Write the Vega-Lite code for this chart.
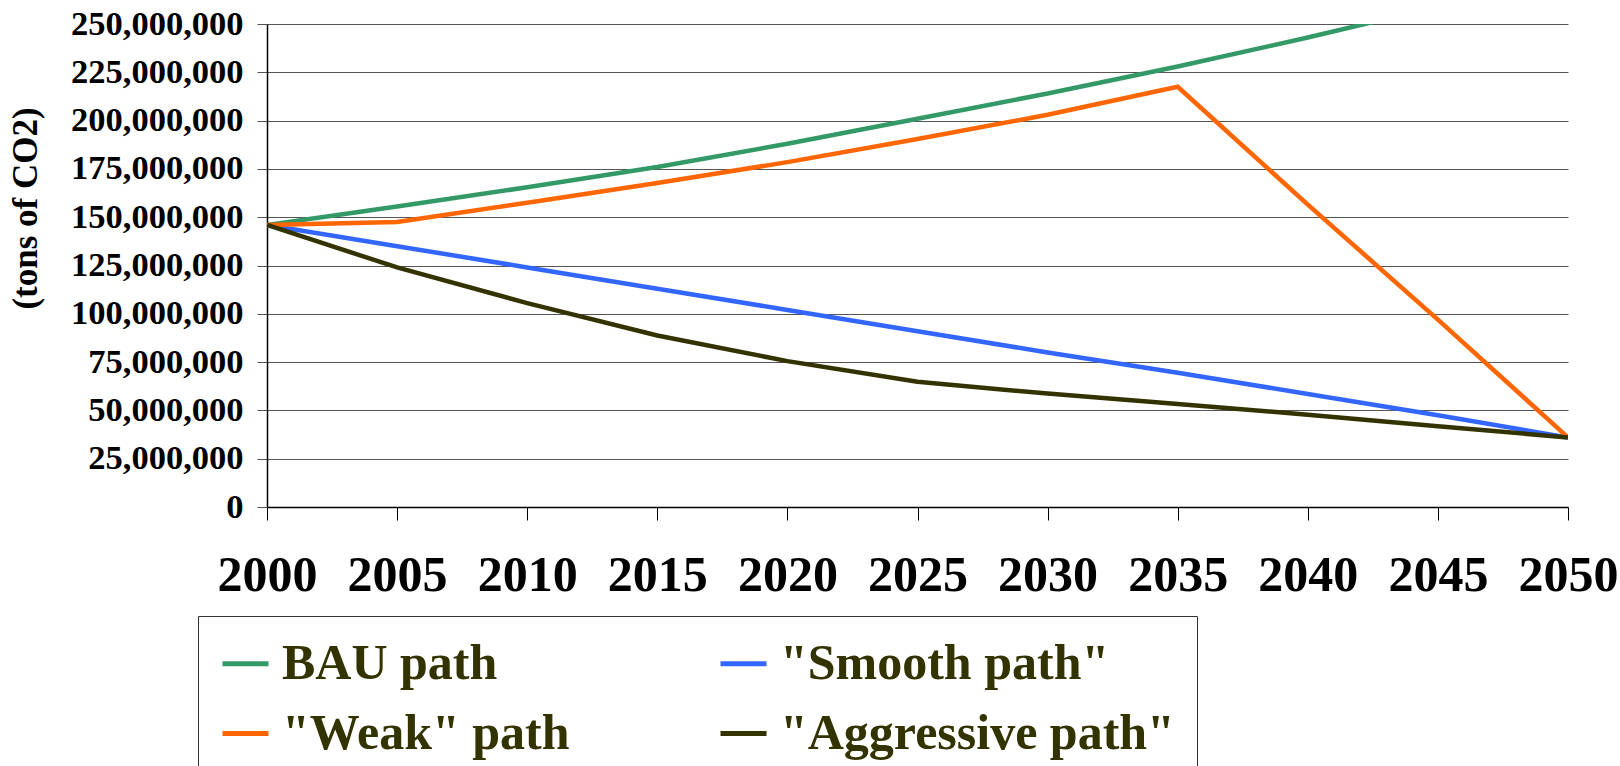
{
  "$schema": "https://vega.github.io/schema/vega-lite/v6.json",
  "width": 1301,
  "height": 483,
  "autosize": {"type": "none"},
  "padding": {"left": 267, "top": 24, "right": 52, "bottom": 259},
  "background": "white",
  "config": {"view": {"stroke": null}, "font": "Liberation Serif"},
  "data": {
    "values": [
      {"year": 2000, "series": "BAU path", "value": 146000000},
      {"year": 2005, "series": "BAU path", "value": 155500000},
      {"year": 2010, "series": "BAU path", "value": 165500000},
      {"year": 2015, "series": "BAU path", "value": 176000000},
      {"year": 2020, "series": "BAU path", "value": 188000000},
      {"year": 2025, "series": "BAU path", "value": 201000000},
      {"year": 2030, "series": "BAU path", "value": 214000000},
      {"year": 2035, "series": "BAU path", "value": 228000000},
      {"year": 2040, "series": "BAU path", "value": 243000000},
      {"year": 2045, "series": "BAU path", "value": 259000000},
      {"year": 2050, "series": "BAU path", "value": 276000000},
      {"year": 2000, "series": "\"Smooth path\"", "value": 146000000},
      {"year": 2005, "series": "\"Smooth path\"", "value": 135000000},
      {"year": 2010, "series": "\"Smooth path\"", "value": 124000000},
      {"year": 2015, "series": "\"Smooth path\"", "value": 113000000},
      {"year": 2020, "series": "\"Smooth path\"", "value": 102000000},
      {"year": 2025, "series": "\"Smooth path\"", "value": 91000000},
      {"year": 2030, "series": "\"Smooth path\"", "value": 80000000},
      {"year": 2035, "series": "\"Smooth path\"", "value": 69500000},
      {"year": 2040, "series": "\"Smooth path\"", "value": 58500000},
      {"year": 2045, "series": "\"Smooth path\"", "value": 47500000},
      {"year": 2050, "series": "\"Smooth path\"", "value": 36000000},
      {"year": 2000, "series": "\"Weak\" path", "value": 146000000},
      {"year": 2005, "series": "\"Weak\" path", "value": 147500000},
      {"year": 2010, "series": "\"Weak\" path", "value": 157500000},
      {"year": 2015, "series": "\"Weak\" path", "value": 167700000},
      {"year": 2020, "series": "\"Weak\" path", "value": 178500000},
      {"year": 2025, "series": "\"Weak\" path", "value": 190500000},
      {"year": 2030, "series": "\"Weak\" path", "value": 203000000},
      {"year": 2035, "series": "\"Weak\" path", "value": 217500000},
      {"year": 2040, "series": "\"Weak\" path", "value": 156500000},
      {"year": 2045, "series": "\"Weak\" path", "value": 97000000},
      {"year": 2050, "series": "\"Weak\" path", "value": 36000000},
      {"year": 2000, "series": "\"Aggressive path\"", "value": 146000000},
      {"year": 2005, "series": "\"Aggressive path\"", "value": 124000000},
      {"year": 2010, "series": "\"Aggressive path\"", "value": 105500000},
      {"year": 2015, "series": "\"Aggressive path\"", "value": 88800000},
      {"year": 2020, "series": "\"Aggressive path\"", "value": 75500000},
      {"year": 2025, "series": "\"Aggressive path\"", "value": 64800000},
      {"year": 2030, "series": "\"Aggressive path\"", "value": 58700000},
      {"year": 2035, "series": "\"Aggressive path\"", "value": 53300000},
      {"year": 2040, "series": "\"Aggressive path\"", "value": 47800000},
      {"year": 2045, "series": "\"Aggressive path\"", "value": 41800000},
      {"year": 2050, "series": "\"Aggressive path\"", "value": 36000000}
    ]
  },
  "mark": {"type": "line", "strokeWidth": 4.5, "clip": true},
  "encoding": {
    "x": {
      "field": "year",
      "type": "quantitative",
      "scale": {"domain": [2000, 2050], "nice": false, "zero": false},
      "axis": {
        "values": [2000, 2005, 2010, 2015, 2020, 2025, 2030, 2035, 2040, 2045, 2050],
        "format": "d",
        "title": null,
        "grid": false,
        "labelFont": "Liberation Serif",
        "labelFontWeight": "bold",
        "labelFontSize": 50,
        "labelColor": "black",
        "labelPadding": 30,
        "labelFlush": false,
        "labelOverlap": false,
        "tickSize": 13,
        "tickColor": "black",
        "tickWidth": 1,
        "domainColor": "black",
        "domainWidth": 1.5
      }
    },
    "y": {
      "field": "value",
      "type": "quantitative",
      "scale": {"domain": [0, 250000000], "nice": false},
      "axis": {
        "values": [0, 25000000, 50000000, 75000000, 100000000, 125000000, 150000000, 175000000, 200000000, 225000000, 250000000],
        "format": ",d",
        "title": "(tons of CO2)",
        "titleFont": "Liberation Serif",
        "titleFontWeight": "bold",
        "titleFontSize": 35,
        "titleColor": "black",
        "titleAngle": 270,
        "titleAlign": "center",
        "titleBaseline": "middle",
        "titleX": -242,
        "titleY": 184,
        "grid": true,
        "gridColor": "#555555",
        "gridWidth": 1.2,
        "labelFont": "Liberation Serif",
        "labelFontWeight": "bold",
        "labelFontSize": 34.5,
        "labelColor": "black",
        "labelPadding": 14,
        "labelOverlap": false,
        "tickSize": 10,
        "tickColor": "#555555",
        "domainColor": "black",
        "domainWidth": 1.5
      }
    },
    "color": {
      "field": "series",
      "type": "nominal",
      "scale": {
        "domain": ["BAU path", "\"Smooth path\"", "\"Weak\" path", "\"Aggressive path\""],
        "range": ["#339966", "#3366FF", "#FF6600", "#333300"]
      },
      "legend": {
        "orient": "none",
        "legendX": -69,
        "legendY": 592,
        "columns": 2,
        "direction": "horizontal",
        "title": null,
        "symbolType": "stroke",
        "symbolSize": 2116,
        "symbolStrokeWidth": 5,
        "labelFont": "Liberation Serif",
        "labelFontWeight": "bold",
        "labelFontSize": 50,
        "labelColor": "#333300",
        "labelOffset": 11,
        "labelLimit": 0,
        "columnPadding": 140,
        "rowPadding": 19,
        "padding": 22,
        "strokeColor": "#333333"
      }
    }
  }
}
